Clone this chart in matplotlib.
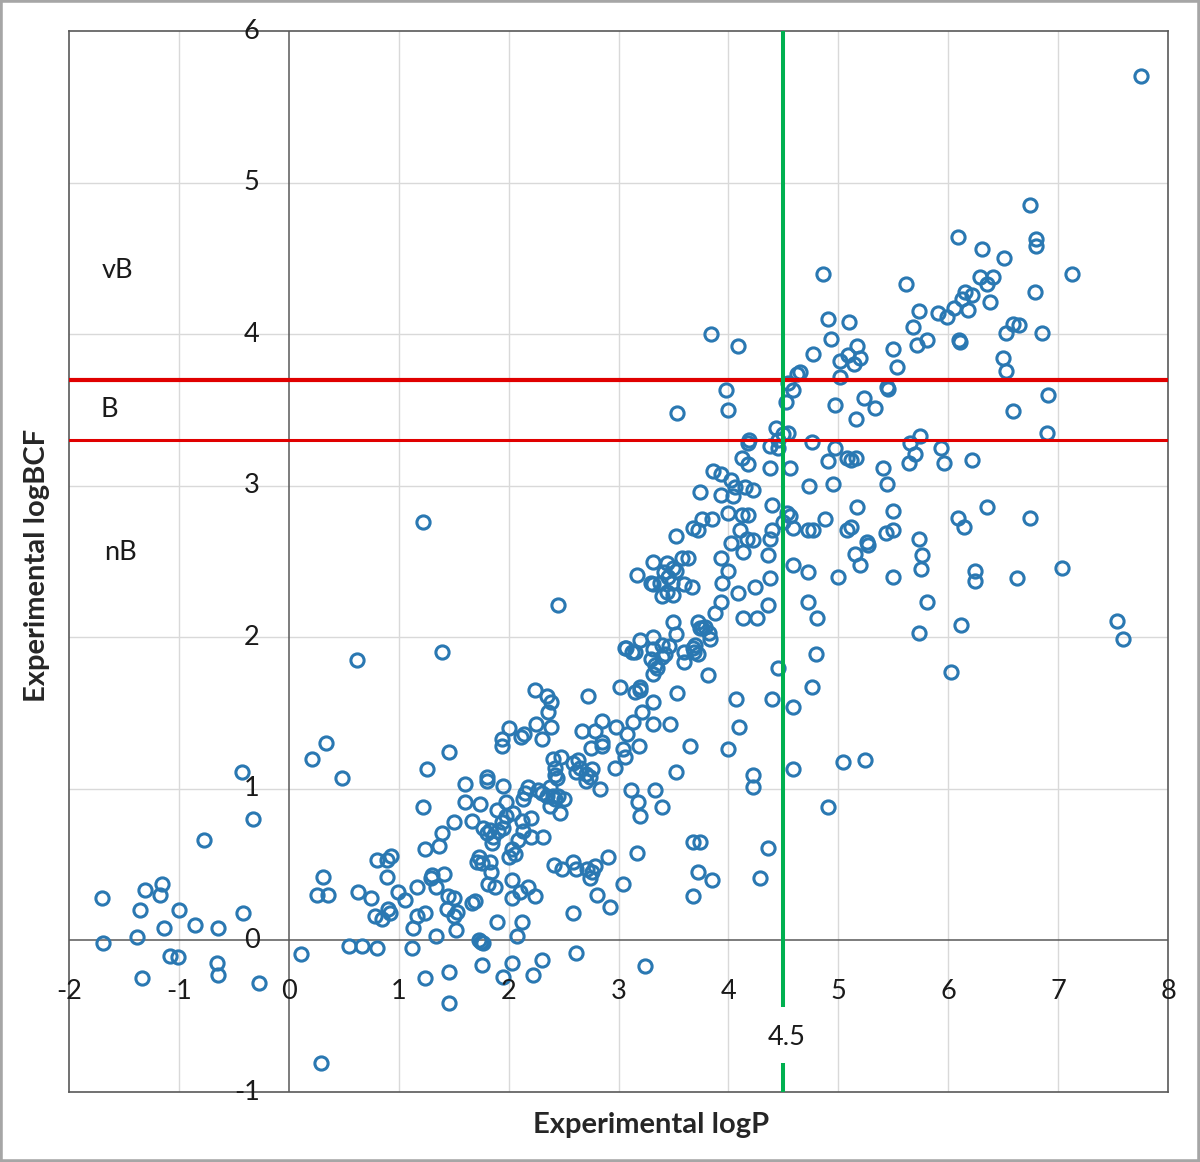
import matplotlib
matplotlib.use("Agg")
import matplotlib.pyplot as plt
from matplotlib.patches import Rectangle

# experimental logP / logBCF pairs
logp = [
    0.62, 0.34, 0.21, 0.48, -0.43, -0.33, -0.77, -1.70, -1.31, -1.15, -1.17, -1.35, -1.00, -0.85, -0.64, -0.42,
    -1.14, -1.69, -1.38, -1.08, -1.01, -0.65, -0.64, -1.34, -0.27, 0.11, 0.29, 0.31, 0.26, 0.36, 0.63, 0.55, 0.67,
    1.39, 2.24, 2.35, 2.39, 2.36, 2.72, 3.01, 3.07, 3.15, 2.25, 2.39, 2.30, 2.00, 1.94, 1.94, 2.11, 2.14, 2.67,
    2.79, 2.85, 2.85, 2.85, 2.75, 2.98, 3.08, 3.13, 3.19, 3.04, 3.06, 2.97, 3.15, 3.20, 3.21, 1.46, 1.26, 1.22,
    1.60, 1.80, 1.80, 1.95, 2.40, 2.48, 2.42, 2.42, 2.44, 2.59, 2.63, 2.65, 2.61, 2.70, 2.74, 2.70, 2.76, 2.83,
    3.11, 3.18, 3.20, 3.17, 3.04, 2.18, 2.15, 2.13, 2.27, 2.30, 2.35, 2.38, 2.40, 2.42, 2.45, 2.50, 2.38, 2.47,
    1.60, 1.74, 1.67, 1.50, 1.39, 1.37, 1.24, 1.89, 1.98, 2.04, 1.98, 1.94, 1.77, 1.83, 1.86, 1.80, 1.85, 1.90,
    1.95, 2.12, 2.20, 2.13, 2.20, 2.09, 2.31, 2.00, 2.06, 2.03, 1.71, 1.76, 1.73, 1.83, 1.84, 1.81, 1.88, 2.03,
    2.03, 2.10, 2.18, 2.24, 1.89, 2.12, 2.08, 2.41, 2.49, 2.59, 2.61, 2.71, 2.76, 2.79, 2.74, 2.90, 2.80, 2.92,
    2.59, 2.61, 2.30, 2.22, 2.03, 1.95, 1.76, 1.46, 1.46, 1.24, 3.24, 1.73, 1.77, 1.75, 1.12, 0.80, 0.75, 0.80,
    0.89, 0.93, 0.89, 0.99, 1.06, 0.78, 0.85, 0.90, 0.92, 1.17, 1.29, 1.30, 1.34, 1.41, 1.17, 1.24, 1.13, 1.34,
    1.45, 1.50, 1.44, 1.50, 1.53, 1.52, 1.67, 1.69,
    2.45, 4.18, 4.38, 4.45, 4.56, 4.38, 4.12, 4.18, 3.86, 3.93, 4.02, 4.15, 4.22, 4.06, 3.74, 3.93, 4.04, 4.40,
    4.00, 4.12, 4.18, 4.11, 4.17, 4.22, 4.13, 4.02, 3.76, 3.85, 3.72, 3.68, 3.52, 4.40, 4.38, 4.36, 4.38, 4.36,
    4.53, 4.56, 4.59, 4.50, 4.59, 4.24, 4.09, 4.13, 4.26, 3.93, 4.00, 3.94, 3.93, 3.88, 3.58, 3.63, 3.44, 3.50,
    3.41, 3.31, 3.45, 3.49, 3.38, 3.30, 3.44, 3.50, 3.40, 3.60, 3.67, 3.17, 3.50, 3.52, 3.72, 3.74, 3.79, 3.82,
    3.83, 3.76, 3.06, 3.12, 3.20, 3.31, 3.31, 3.40, 3.46, 3.30, 3.35, 3.31, 3.40, 3.60, 3.68, 3.69, 3.60, 3.81,
    4.45, 3.20, 3.31, 3.53, 3.31, 3.47, 4.07, 4.10, 4.00, 3.65, 3.52, 4.40, 4.59, 4.59, 4.22, 4.22, 3.33, 3.40,
    3.68, 3.74, 4.36, 3.72, 3.85, 4.29, 3.68,
    3.84, 4.09, 3.98, 4.00, 3.53, 4.91, 5.10, 4.93, 4.77, 5.17, 5.09, 5.02, 5.14, 5.20, 5.02, 5.50, 5.53, 5.73,
    5.68, 5.81, 5.72, 5.91, 4.65, 4.62, 4.54, 4.59, 4.52, 5.44, 5.45, 4.97, 5.23, 5.33, 5.16, 4.43, 4.54, 4.50,
    4.45, 4.19, 4.76, 4.97, 4.91, 5.08, 5.12, 5.16, 4.73, 4.95, 5.65, 5.74, 5.70, 5.64, 5.93, 5.41, 5.44, 5.17,
    5.50, 5.50, 5.43, 4.88, 4.72, 4.77, 5.08, 5.12, 5.15, 5.26, 5.27, 5.20, 5.50, 5.00, 4.72, 5.73, 5.76, 5.75,
    5.81, 5.73, 4.72, 4.81, 4.80, 4.76,
    6.12, 6.03, 5.04, 5.24, 4.91,
    7.75, 6.74, 6.09, 6.80, 6.80, 6.31, 6.51, 7.13, 5.62, 6.29, 6.41, 6.35, 6.15, 6.22, 6.13, 6.18, 6.38, 6.79,
    5.99, 6.05, 6.10, 6.11, 6.59, 6.64, 6.53, 6.85, 6.50, 6.53, 6.91, 6.59, 6.90, 5.96, 6.22, 6.35, 6.09, 6.14,
    6.74, 6.24, 6.24, 6.63, 7.04, 7.54, 7.59,
    4.86, 1.22, 3.52, 3.31, 3.42, 3.33, 3.70, 3.72,
]
logbcf = [
    1.85, 1.30, 1.20, 1.07, 1.11, 0.80, 0.66, 0.28, 0.33, 0.37, 0.30, 0.20, 0.20, 0.10, 0.08, 0.18,
    0.08, -0.02, 0.02, -0.10, -0.11, -0.15, -0.23, -0.25, -0.28, -0.09, -0.81, 0.42, 0.30, 0.30, 0.32, -0.04, -0.04,
    1.90, 1.65, 1.61, 1.57, 1.51, 1.61, 1.67, 1.93, 1.90, 1.43, 1.41, 1.33, 1.40, 1.33, 1.28, 1.34, 1.36, 1.38,
    1.38, 1.45, 1.31, 1.28, 1.27, 1.41, 1.36, 1.44, 1.28, 1.26, 1.21, 1.14, 1.64, 1.65, 1.51, 1.24, 1.13, 0.88,
    1.03, 1.08, 1.05, 1.02, 1.20, 1.21, 1.14, 1.09, 1.07, 1.17, 1.19, 1.14, 1.11, 1.10, 1.08, 1.05, 1.13, 1.00,
    0.99, 0.91, 0.82, 0.58, 0.37, 1.01, 0.97, 0.93, 0.99, 0.97, 0.95, 1.01, 0.95, 0.93, 0.95, 0.93, 0.89, 0.84,
    0.91, 0.90, 0.79, 0.78, 0.71, 0.62, 0.60, 0.86, 0.91, 0.84, 0.82, 0.78, 0.74, 0.73, 0.68, 0.71, 0.64, 0.72,
    0.74, 0.79, 0.81, 0.72, 0.68, 0.66, 0.68, 0.55, 0.57, 0.60, 0.52, 0.51, 0.55, 0.52, 0.45, 0.37, 0.35, 0.40,
    0.28, 0.32, 0.35, 0.29, 0.12, 0.12, 0.03, 0.50, 0.47, 0.52, 0.47, 0.47, 0.45, 0.49, 0.41, 0.55, 0.30, 0.22,
    0.18, -0.08, -0.13, -0.23, -0.15, -0.24, -0.16, -0.21, -0.41, -0.25, -0.17, 0.00, -0.02, -0.01, -0.05, -0.05, 0.28, 0.53,
    0.53, 0.56, 0.42, 0.32, 0.27, 0.16, 0.14, 0.21, 0.18, 0.35, 0.41, 0.43, 0.35, 0.44, 0.16, 0.18, 0.08, 0.03,
    0.29, 0.28, 0.21, 0.16, 0.19, 0.07, 0.25, 0.26,
    2.21, 3.28, 3.26, 3.25, 3.12, 3.12, 3.18, 3.14, 3.10, 3.08, 3.04, 2.99, 2.97, 2.99, 2.96, 2.94, 2.93, 2.87,
    2.82, 2.81, 2.81, 2.71, 2.65, 2.64, 2.56, 2.62, 2.78, 2.78, 2.71, 2.72, 2.67, 2.71, 2.65, 2.54, 2.39, 2.21,
    2.82, 2.80, 2.72, 2.76, 2.48, 2.33, 2.29, 2.13, 2.13, 2.52, 2.44, 2.36, 2.23, 2.16, 2.52, 2.52, 2.49, 2.46,
    2.43, 2.50, 2.40, 2.36, 2.36, 2.36, 2.30, 2.28, 2.27, 2.35, 2.33, 2.41, 2.10, 2.02, 2.10, 2.06, 2.07, 2.03,
    1.99, 2.06, 1.93, 1.90, 1.98, 2.00, 1.92, 1.95, 1.94, 1.86, 1.80, 1.76, 1.87, 1.90, 1.93, 1.90, 1.84, 1.75,
    1.80, 1.67, 1.57, 1.63, 1.43, 1.43, 1.59, 1.41, 1.26, 1.28, 1.11, 1.59, 1.54, 1.13, 1.09, 1.01, 0.99, 0.88,
    0.65, 0.65, 0.61, 0.45, 0.40, 0.41, 0.29,
    4.00, 3.92, 3.63, 3.50, 3.48, 4.10, 4.08, 3.97, 3.87, 3.92, 3.86, 3.82, 3.80, 3.84, 3.72, 3.90, 3.78, 4.15,
    4.05, 3.96, 3.93, 4.14, 3.75, 3.74, 3.68, 3.63, 3.55, 3.65, 3.64, 3.53, 3.58, 3.51, 3.44, 3.38, 3.35, 3.34,
    3.30, 3.30, 3.29, 3.25, 3.16, 3.18, 3.17, 3.18, 3.00, 3.01, 3.28, 3.33, 3.21, 3.15, 3.25, 3.12, 3.01, 2.86,
    2.83, 2.71, 2.69, 2.78, 2.71, 2.71, 2.71, 2.73, 2.55, 2.63, 2.61, 2.48, 2.40, 2.40, 2.43, 2.65, 2.54, 2.45,
    2.23, 2.03, 2.23, 2.13, 1.89, 1.67,
    2.08, 1.77, 1.18, 1.19, 0.88,
    5.70, 4.85, 4.64, 4.63, 4.58, 4.56, 4.50, 4.40, 4.33, 4.38, 4.38, 4.33, 4.28, 4.26, 4.23, 4.16, 4.21, 4.28,
    4.11, 4.17, 3.96, 3.95, 4.07, 4.06, 4.01, 4.01, 3.84, 3.76, 3.60, 3.49, 3.35, 3.15, 3.17, 2.86, 2.79, 2.73,
    2.79, 2.44, 2.37, 2.39, 2.46, 2.11, 1.99,
    4.40, 2.76, 2.44, 2.35, 1.89, 1.82, 1.95, 1.89,
]

x_ticks = [-2, -1, 0, 1, 2, 3, 4, 5, 6, 7, 8]
y_ticks = [-1, 0, 1, 2, 3, 4, 5, 6]
bcf_b = 3.3      # B threshold
bcf_vb = 3.7     # vB threshold
logp_cut = 4.5

plt.rcParams['font.family'] = ['Lato', 'DejaVu Sans']

fig = plt.figure(figsize=(12, 11.62), dpi=100)
ax = fig.add_axes([69 / 1200, 1 - 1092 / 1162, 1099 / 1200, 1061 / 1162])
ax.set_xlim(-2, 8)
ax.set_ylim(-1, 6)
ax.set_xticks([])
ax.set_yticks([])
for s in ax.spines.values():
    s.set_color('#595959')
    s.set_linewidth(1.2)

# grid
for v in x_ticks[1:-1]:
    if v != 0:
        ax.axvline(v, color='#d9d9d9', lw=1, zorder=0)
for v in y_ticks[1:-1]:
    if v != 0:
        ax.axhline(v, color='#d9d9d9', lw=1, zorder=0)
ax.axhline(0, color='#595959', lw=1.1, zorder=1)
ax.axvline(0, color='#595959', lw=1.1, zorder=1)

ax.plot(logp, logbcf, 'o', ls='none', ms=9.5, mfc='none', mec='#2a78b2', mew=2.2, zorder=2)

ax.axhline(bcf_vb, color='#e00000', lw=3, zorder=3)
ax.axhline(bcf_b, color='#e00000', lw=2.2, zorder=3)
ax.vlines(logp_cut, -0.44, 6, color='#00b050', lw=2.9, zorder=3)
ax.vlines(logp_cut, -1, -0.81, color='#00b050', lw=2.9, zorder=3)

# tick labels sit on the axis lines, like excel
for v in x_ticks:
    ax.annotate(str(v), xy=(v, 0), xytext=(0, -37), textcoords='offset points',
                ha='center', va='center', fontsize=19.5, color='#1a1a1a', annotation_clip=False)
for v in y_ticks:
    ax.annotate(str(v), xy=(0, v), xytext=(-21, 0), textcoords='offset points',
                ha='right', va='center', fontsize=19.5, color='#1a1a1a', annotation_clip=False)

ax.text(-1.56, 4.42, 'vB', ha='center', va='center', fontsize=19.5, color='#1a1a1a')
ax.text(-1.63, 3.50, 'B', ha='center', va='center', fontsize=19.5, color='#1a1a1a')
ax.text(-1.53, 2.56, 'nB', ha='center', va='center', fontsize=19.5, color='#1a1a1a')
ax.text(4.53, -0.64, '4.5', ha='center', va='center', fontsize=19.5, color='#1a1a1a')

fig.text(651 / 1200, 1 - 1125 / 1162, 'Experimental logP', ha='center', va='center',
         fontsize=21, fontweight='bold', color='#262626')
fig.text(37 / 1200, 1 - 565 / 1162, 'Experimental logBCF', ha='center', va='center',
         rotation=90, fontsize=21, fontweight='bold', color='#262626')

fig.add_artist(Rectangle((0, 0), 1, 1, transform=fig.transFigure, fill=False,
                         edgecolor='#a6a6a6', lw=4))

fig.savefig('out.png', dpi=100)
